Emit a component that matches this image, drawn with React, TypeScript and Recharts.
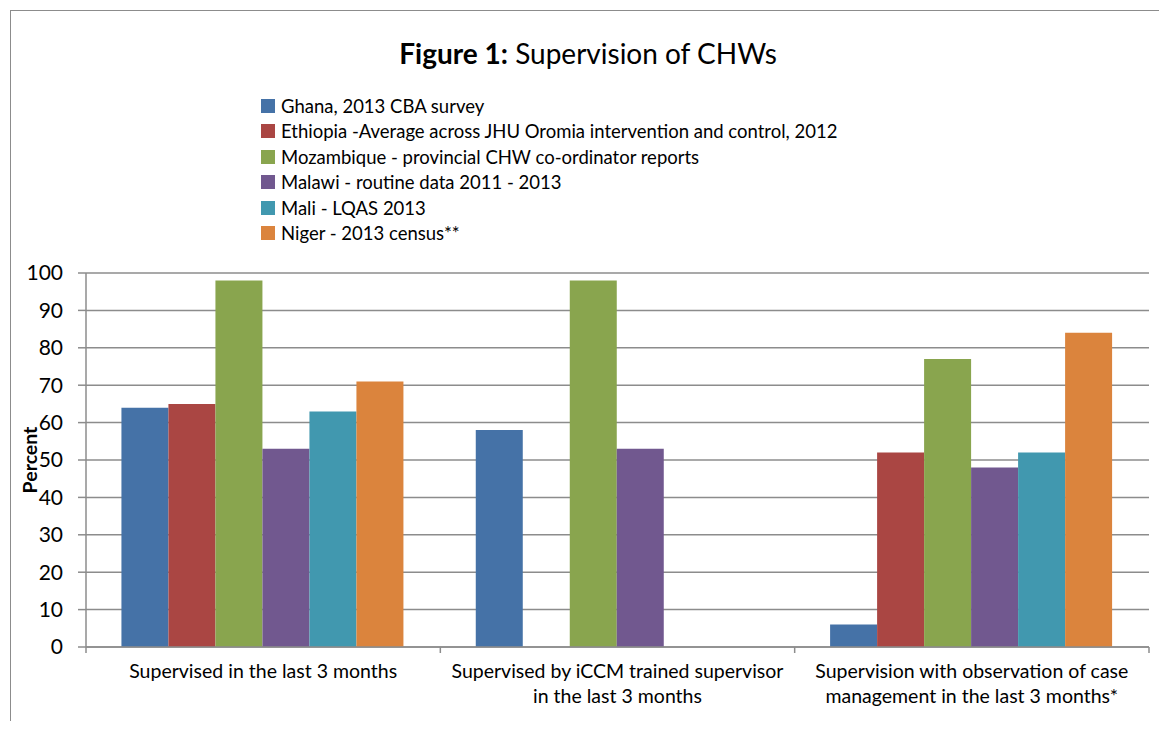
import React from "react";
import { BarChart, Bar, XAxis, YAxis, CartesianGrid, Label } from "recharts";

const categories = [
  "Supervised in the last 3 months",
  "Supervised by iCCM trained supervisor\nin the last 3 months",
  "Supervision with observation of case\nmanagement in the last 3 months*",
];

const seriesNames = [
  "Ghana, 2013 CBA survey",
  "Ethiopia -Average across JHU Oromia intervention and control, 2012",
  "Mozambique - provincial CHW co-ordinator reports",
  "Malawi - routine data 2011 - 2013",
  "Mali - LQAS 2013",
  "Niger - 2013 census**",
];

const ghana = [64, 58, 6];
const ethiopia = [65, null, 52];
const mozambique = [98, 98, 77];
const malawi = [53, 53, 48];
const mali = [63, null, 52];
const niger = [71, null, 84];

const yTicks = [0, 10, 20, 30, 40, 50, 60, 70, 80, 90, 100];

const colors = ["#4572A7", "#AA4643", "#89A54E", "#71588F", "#4198AF", "#DB843D"];
const seriesValues = [ghana, ethiopia, mozambique, malawi, mali, niger];
const keys = ["ghana", "ethiopia", "mozambique", "malawi", "mali", "niger"];

const data = categories.map((name, i) => {
  const row: Record<string, string | number | null> = { name };
  keys.forEach((k, s) => {
    row[k] = seriesValues[s][i];
  });
  return row;
});

const FONT = "Lato, 'Open Sans', sans-serif";
const GRID = "#8c8c8c";

const W = 1159;
const H = 721;
const margin = { top: 265, right: 18, left: 18, bottom: 22 };
const Y_AXIS_W = 60;
const plotW = W - margin.left - margin.right - Y_AXIS_W;
const band = plotW / categories.length;

// category labels, with Excel-style tick marks on the band edges
function CategoryTick(props: any) {
  const { x, y, payload, index } = props;
  const lines = String(payload.value).split("\n");
  return (
    <g>
      <line x1={x - band / 2} x2={x - band / 2} y1={y} y2={y + 6} stroke={GRID} strokeWidth={1.5} />
      {index === categories.length - 1 && (
        <line x1={x + band / 2} x2={x + band / 2} y1={y} y2={y + 6} stroke={GRID} strokeWidth={1.5} />
      )}
      {lines.map((line, i) => (
        <text
          key={i}
          x={x}
          y={y + 23 + i * 25}
          textAnchor="middle"
          dominantBaseline="central"
          fill="#000"
          fontSize={19.5}
          fontFamily={FONT}
        >
          {line}
        </text>
      ))}
    </g>
  );
}

function PercentLabel(props: any) {
  const { viewBox } = props;
  const cy = viewBox.y + viewBox.height / 2;
  const cx = 21;
  return (
    <text
      x={cx}
      y={cy}
      transform={`rotate(-90, ${cx}, ${cy})`}
      textAnchor="middle"
      dominantBaseline="central"
      fontSize={19.5}
      fontWeight="bold"
      fontFamily={FONT}
      fill="#000"
    >
      Percent
    </text>
  );
}

export default function App() {
  return (
    <div style={{ position: "relative", width: W, height: H, marginBottom: -8, fontFamily: FONT }}>
      <div
        style={{
          position: "absolute",
          left: 1.5,
          top: 2,
          width: W,
          height: H,
          borderLeft: "1.5px solid #8c8c8c",
          borderTop: "1.5px solid #8c8c8c",
        }}
      />
      <div
        style={{
          position: "absolute",
          left: 380,
          width: 400,
          top: 28,
          textAlign: "center",
          fontSize: 28,
          color: "#000",
          whiteSpace: "nowrap",
        }}
      >
        <b>Figure 1:</b> Supervision of CHWs
      </div>
      <div style={{ position: "absolute", left: 253, top: 85 }}>
        {seriesNames.map((name, i) => (
          <div key={name} style={{ display: "flex", alignItems: "center", height: 25.5, fontSize: 18.5 }}>
            <span
              style={{ display: "inline-block", width: 14, height: 14, background: colors[i], marginRight: 6 }}
            />
            <span style={{ color: "#000", whiteSpace: "nowrap" }}>{name}</span>
          </div>
        ))}
      </div>
      <BarChart
        width={W}
        height={H}
        data={data}
        margin={margin}
        barCategoryGap="10%"
        barGap={0}
        style={{ position: "absolute", left: 0, top: 0 }}
      >
        <CartesianGrid vertical={false} stroke={GRID} strokeWidth={1.5} />
        <XAxis
          dataKey="name"
          height={60}
          axisLine={{ stroke: GRID, strokeWidth: 1.5 }}
          tickLine={false}
          tickSize={0}
          tickMargin={0}
          interval={0}
          tick={<CategoryTick />}
        />
        <YAxis
          width={Y_AXIS_W}
          domain={[0, 100]}
          ticks={yTicks}
          interval={0}
          axisLine={{ stroke: GRID, strokeWidth: 1.5 }}
          tickLine={{ stroke: GRID, strokeWidth: 1.5 }}
          tickSize={8}
          tickMargin={15}
          tick={{ fill: "#000", fontSize: 21, fontFamily: FONT }}
        >
          <Label content={<PercentLabel />} />
        </YAxis>
        {keys.map((k, i) => (
          <Bar key={k} dataKey={k} name={seriesNames[i]} fill={colors[i]} isAnimationActive={false} />
        ))}
      </BarChart>
    </div>
  );
}
